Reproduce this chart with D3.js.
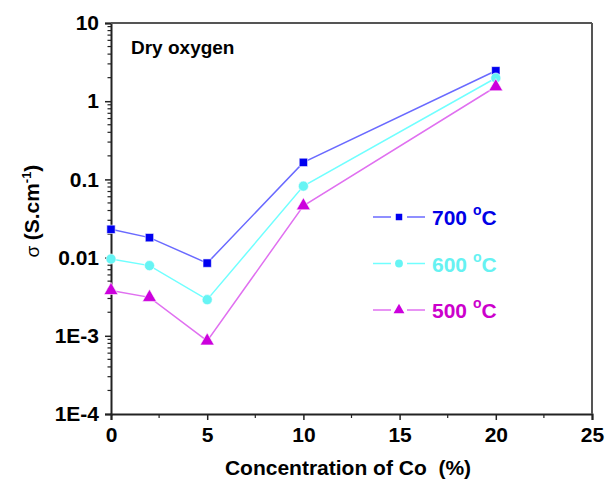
<!DOCTYPE html>
<html>
<head>
<meta charset="utf-8">
<style>
  body { margin: 0; background: #fff; }
  svg text { font-family: Arial, "Liberation Sans", sans-serif; font-weight: bold; }
</style>
</head>
<body>
<script src="https://d3js.org/d3.v7.min.js"></script>
<script>
// data
var concentration = [0, 2, 5, 10, 20];
var sigma700 = [0.023, 0.018, 0.0085, 0.165, 2.45];
var sigma600 = [0.0096, 0.0079, 0.0029, 0.082, 1.98];
var sigma500 = [0.0038, 0.0031, 0.00086, 0.046, 1.53];
var seriesNames = ["700", "600", "500"];
var xTicks = [0, 5, 10, 15, 20, 25];
var yTicks = [1e-4, 1e-3, 0.01, 0.1, 1, 10];
var yTickLabels = ["1E-4", "1E-3", "0.01", "0.1", "1", "10"];

var margin = {top: 23, right: 14, bottom: 66, left: 111};
var width = 606 - margin.left - margin.right;
var height = 480 - margin.top - margin.bottom;

var svg = d3.select("body").append("svg")
    .attr("width", 606)
    .attr("height", 480);
var g = svg.append("g")
    .attr("transform", "translate(" + margin.left + "," + margin.top + ")");

var x = d3.scaleLinear().domain([0, 25]).range([0, width]);
var y = d3.scaleLog().domain([1e-4, 10]).range([height, 0]);

var axisColor = "#222";

// minor ticks
var yMinor = [];
for (var e = -4; e < 1; e++) {
  for (var m = 2; m <= 9; m++) yMinor.push(m * Math.pow(10, e));
}
g.append("g").selectAll("line").data(yMinor).enter().append("line")
    .attr("x1", -3.5).attr("x2", 0)
    .attr("y1", d => y(d)).attr("y2", d => y(d))
    .attr("stroke", axisColor).attr("stroke-width", 1.2);

var xMinor = [2.5, 7.5, 12.5, 17.5, 22.5];
g.append("g").selectAll("line").data(xMinor).enter().append("line")
    .attr("x1", d => x(d)).attr("x2", d => x(d))
    .attr("y1", height).attr("y2", height + 4)
    .attr("stroke", axisColor).attr("stroke-width", 1.2);

// axes
var yAxis = g.append("g")
    .call(d3.axisLeft(y).tickValues(yTicks).tickSize(6).tickPadding(6)
      .tickFormat((d, i) => yTickLabels[i]));
var xAxis = g.append("g")
    .attr("transform", "translate(0," + height + ")")
    .call(d3.axisBottom(x).tickValues(xTicks).tickSize(6).tickPadding(7));

[xAxis, yAxis].forEach(function(a) {
  a.select(".domain").attr("stroke", axisColor).attr("stroke-width", 2);
  a.selectAll(".tick line").attr("stroke", axisColor).attr("stroke-width", 1.5);
  a.selectAll(".tick text").attr("fill", "#000").style("font-size", "21px");
});
yAxis.selectAll(".tick text").style("font-size", "21px");

// frame top and right
g.append("line").attr("x1", 0).attr("x2", width).attr("y1", 0).attr("y2", 0)
    .attr("stroke", "#555").attr("stroke-width", 2);
g.append("line").attr("x1", width).attr("x2", width).attr("y1", 0).attr("y2", height)
    .attr("stroke", "#555").attr("stroke-width", 2);

// series
var series = [
  {name: seriesNames[0], values: sigma700, line: "#6a6aff", fill: "#0000f0", text: "#0000e6", shape: d3.symbolSquare, size: 70},
  {name: seriesNames[1], values: sigma600, line: "#70ffff", fill: "#66f4f4", text: "#66f2f2", shape: d3.symbolCircle, size: 80},
  {name: seriesNames[2], values: sigma500, line: "#e070f0", fill: "#cc00dd", text: "#cc00cc", shape: d3.symbolTriangle, size: 85}
];

var line = d3.line()
    .x((d, i) => x(concentration[i]))
    .y(d => y(d));

series.forEach(function(s) {
  g.append("path")
      .datum(s.values)
      .attr("fill", "none")
      .attr("stroke", s.line)
      .attr("stroke-width", 1.5)
      .attr("d", line);
  g.selectAll(null).data(s.values).enter().append("path")
      .attr("d", d3.symbol().type(s.shape).size(s.size))
      .attr("transform", (d, i) => "translate(" + x(concentration[i]) + "," + y(d) + ")")
      .attr("fill", s.fill)
      .attr("stroke", "#fff")
      .attr("stroke-width", 0.6);
});

// legend
var legend = g.selectAll(".legend").data(series).enter().append("g")
    .attr("class", "legend")
    .attr("transform", (d, i) => "translate(262," + (194 + i * 46.5) + ")");
legend.append("line").attr("x1", 0).attr("x2", 18).attr("y1", 0).attr("y2", 0)
    .attr("stroke", d => d.line).attr("stroke-width", 1.5);
legend.append("line").attr("x1", 34).attr("x2", 52).attr("y1", 0).attr("y2", 0)
    .attr("stroke", d => d.line).attr("stroke-width", 1.5);
legend.append("path")
    .attr("d", d => d3.symbol().type(d.shape).size(d.size * 0.6)())
    .attr("transform", "translate(26,0)")
    .attr("fill", d => d.fill);
var lt = legend.append("text")
    .attr("x", 59).attr("y", 8)
    .attr("fill", d => d.text)
    .style("font-size", "21px");
lt.append("tspan").text(d => d.name + " ");
lt.append("tspan").attr("dy", -10).style("font-size", "14px").text("o");
lt.append("tspan").attr("dy", 10).text("C");

// annotation
g.append("text").attr("x", 20).attr("y", 31)
    .style("font-size", "19px").attr("fill", "#000")
    .text("Dry oxygen");

// axis titles
svg.append("text")
    .attr("x", 348).attr("y", 475)
    .attr("text-anchor", "middle")
    .style("font-size", "21px")
    .text("Concentration of Co\u00a0\u00a0(%)");

var yt = svg.append("text")
    .attr("transform", "translate(39,211) rotate(-90)")
    .attr("text-anchor", "middle")
    .style("font-size", "21px");
yt.append("tspan").style("font-weight", "normal").style("font-size", "19px").text("\u03c3 ");
yt.append("tspan").text("(S.cm");
yt.append("tspan").attr("dy", -8).style("font-size", "13px").text("-1");
yt.append("tspan").attr("dy", 8).text(")");
</script>
</body>
</html>
